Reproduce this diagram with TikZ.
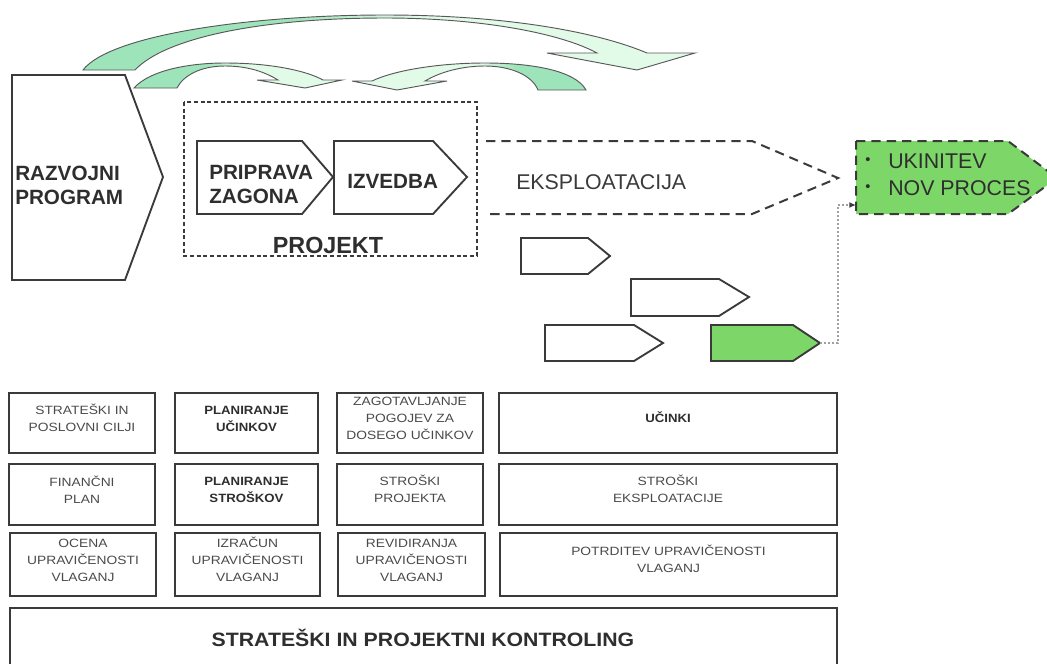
\documentclass[tikz,border=0pt]{standalone}
\usepackage{fontspec}
\usepackage{graphicx}
\setmainfont{Liberation Sans}
\newfontfamily\cellfont[FakeStretch=1.15]{Liberation Sans}
\newfontfamily\cellboldfont[FakeStretch=1.1]{Liberation Sans}
\usetikzlibrary{fit,arrows.meta}

\definecolor{ink}{HTML}{3A3A3A}
\definecolor{txt}{HTML}{2E2E2E}
\definecolor{celltxt}{HTML}{4A4A4A}
\definecolor{mintD}{RGB}{158,228,186}
\definecolor{mintL}{RGB}{226,251,232}
\definecolor{leaf}{RGB}{124,215,104}
\definecolor{dotgray}{HTML}{A0A0A0}

% two-tone fills for the curved arrows (dark tail, light head)
\pgfdeclarehorizontalshading{mintfwd}{100bp}{color(0bp)=(mintD); color(42bp)=(mintD); color(53bp)=(mintL); color(100bp)=(mintL)}
\pgfdeclarehorizontalshading{mintrev}{100bp}{color(0bp)=(mintL); color(52bp)=(mintL); color(60bp)=(mintD); color(100bp)=(mintD)}

\tikzset{
  shapeline/.style={draw=ink, line width=1.4pt, line join=miter},
  bendarrow/.style={draw=ink!85, line width=0.7pt, line join=miter},
  projframe/.style={draw=ink, line width=0.8pt, dash pattern=on 3pt off 2pt},
  phasedash/.style={draw=ink, line width=1.5pt, dash pattern=on 7pt off 4.5pt, line join=miter},
  dotconn/.style={draw=dotgray, line width=1.5pt, dash pattern=on 1.5pt off 1.5pt,
                  -{Latex[length=5pt,width=4.5pt,color=ink]}},
  title/.style={inner sep=0pt, text=txt, font=\fontsize{15.5}{18}\selectfont\bfseries, align=left},
  phase/.style={inner sep=0pt, text=txt, font=\fontsize{16}{18}\selectfont},
  cell/.style={draw=ink, line width=1.5pt, inner sep=0pt, align=center, text=celltxt,
               font=\cellfont\fontsize{9}{12.75}\selectfont},
  cellbold/.style={cell, text=txt, font=\cellboldfont\fontsize{9}{12.75}\selectfont\bfseries},
}

\begin{document}
\begin{tikzpicture}[x=0.75pt,y=-0.75pt]
\useasboundingbox (0,0) rectangle (1047,664);
\clip (0,0) rectangle (1047,664);

% ---- curved feedback arrows across the top ----
\path[bendarrow, shade, shading=mintfwd]
  (83,70) .. controls (110,35) and (250,15) .. (385,15)
  .. controls (510,15) and (600,33) .. (647,53)
  -- (695,53) -- (637,70) -- (547,53) -- (597,53)
  .. controls (560,33) and (480,18) .. (385,18)
  .. controls (260,18) and (165,38) .. (135,70) -- cycle;

\path[bendarrow, shade, shading=mintfwd]
  (134,88) .. controls (150,70) and (190,63) .. (225,63)
  .. controls (268,63) and (305,70) .. (323,80)
  -- (342,80) -- (305,88) -- (257,80) -- (278,80)
  .. controls (265,72) and (248,66) .. (225,66)
  .. controls (200,66) and (183,76) .. (177,88) -- cycle;

\path[bendarrow, shade, shading=mintrev]
  (586,90) .. controls (575,70) and (530,63) .. (485,63)
  .. controls (440,63) and (395,70) .. (372,81)
  -- (352,81) -- (397,90) -- (447,81) -- (425,81)
  .. controls (440,72) and (462,66) .. (485,66)
  .. controls (510,66) and (532,75) .. (538,90) -- cycle;

% ---- development programme ----
\draw[shapeline] (12,75) -- (125,75) -- (163,177) -- (125,280) -- (12,280) -- cycle;
\node[title, anchor=west] (razvoj) at (15,185) {RAZVOJNI\\PROGRAM};

% ---- project frame with its two phases ----
\draw[projframe] (184,102) rectangle (477,256);
\draw[shapeline, fill=white] (197,141) -- (302,141) -- (333,177) -- (302,214) -- (197,214) -- cycle;
\draw[shapeline, fill=white] (334,141) -- (433,141) -- (467,177) -- (433,214) -- (334,214) -- cycle;
\node[title, anchor=west] (priprava) at (209,184) {PRIPRAVA\\ZAGONA};
\node[title, anchor=west] (izvedba) at (347,181) {IZVEDBA};
\node[title, font=\fontsize{17.5}{18}\selectfont\bfseries] (projekt) at (328,245) {PROJEKT};

% ---- operation phase ----
\draw[phasedash] (486,141) -- (752,141) -- (838,178) -- (752,214) -- (486,214);
\node[phase, anchor=west, text=ink] (eksp) at (516,182) {EKSPLOATACIJA};

% ---- end of life ----
\draw[phasedash, fill=leaf] (856,141) -- (1008,141) -- (1057,178) -- (1008,214) -- (856,214) -- cycle;
\node[phase, font=\fontsize{11}{11}\selectfont] (bul1) at (868,161) {\textbullet};
\node[phase, font=\fontsize{11}{11}\selectfont] (bul2) at (868,188) {\textbullet};
\node[phase, anchor=west] (ukinitev) at (888,161) {UKINITEV};
\node[phase, anchor=west] (novproc) at (888,188) {NOV PROCES};
\coordinate (gin) at (856,205);

% ---- later operation cycles ----
\draw[shapeline] (521,238) -- (588,238) -- (610,256) -- (588,274) -- (521,274) -- cycle;
\draw[shapeline] (631,279) -- (719,279) -- (749,297) -- (719,316) -- (631,316) -- cycle;
\draw[shapeline] (545,325) -- (634,325) -- (663,343) -- (634,361) -- (545,361) -- cycle;
\draw[shapeline, fill=leaf] (711,325) -- (793,325) -- (820,343) -- (793,361) -- (711,361) -- cycle;
\coordinate (a4tip) at (820,343);
\draw[dotconn] (a4tip) -- ++(18,0) |- (gin);

% ---- controlling table ----
\node[cell, fit={(9,393) (155,453)}] (c11) {STRATEŠKI IN\\POSLOVNI CILJI};
\node[cellbold, fit={(175,393) (318,453)}] (c12) {PLANIRANJE\\UČINKOV};
\node[cell, fit={(337,393) (483,453)}] (c13) {ZAGOTAVLJANJE\\POGOJEV ZA\\DOSEGO UČINKOV};
\node[cellbold, fit={(499,393) (837,453)}] (c14) {UČINKI};

\node[cell, fit={(9,464) (155,525)}] (c21) {FINANČNI\\PLAN};
\node[cellbold, fit={(175,464) (318,525)}] (c22) {PLANIRANJE\\STROŠKOV};
\node[cell, fit={(337,464) (483,525)}] (c23) {STROŠKI\\PROJEKTA};
\node[cell, fit={(499,464) (837,525)}] (c24) {STROŠKI\\EKSPLOATACIJE};

\node[cell, fit={(10,533) (156,596)}] (c31) {OCENA\\UPRAVIČENOSTI\\VLAGANJ};
\node[cell, fit={(175,533) (320,596)}] (c32) {IZRAČUN\\UPRAVIČENOSTI\\VLAGANJ};
\node[cell, fit={(338,533) (485,596)}] (c33) {REVIDIRANJA\\UPRAVIČENOSTI\\VLAGANJ};
\node[cell, fit={(500,533) (837,596)}] (c34) {POTRDITEV UPRAVIČENOSTI\\VLAGANJ};

\node[cell, fit={(10,608) (837,690)}] (ctrl) {};
\node[title, text=txt, font=\fontsize{14.5}{16}\selectfont\bfseries] (ctrltxt) at (423,638)
  {\scalebox{1.1}[1]{STRATEŠKI IN PROJEKTNI KONTROLING}};
\end{tikzpicture}
\end{document}
